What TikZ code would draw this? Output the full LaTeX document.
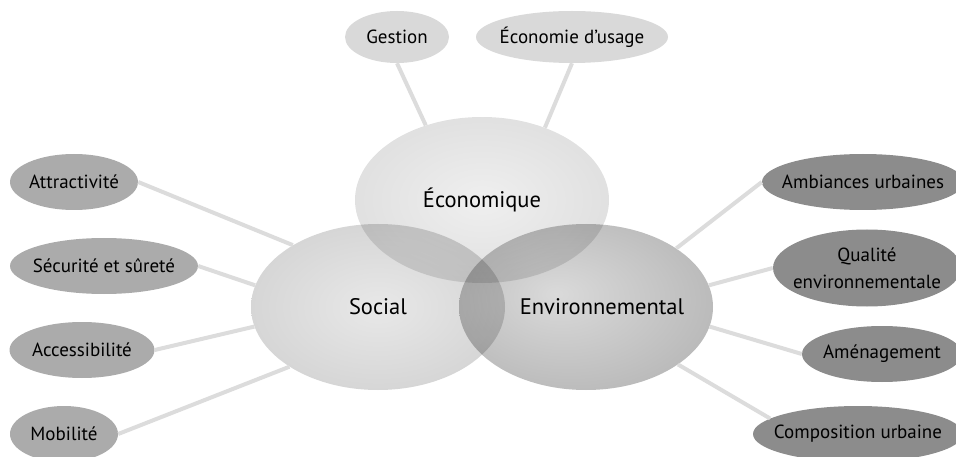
\documentclass[tikz,border=0pt]{standalone}
\usepackage{fontspec}
\setmainfont{PT Sans}
\usetikzlibrary{shapes.geometric}

\definecolor{satlight}{HTML}{D9D9D9}
\definecolor{satmid}{HTML}{ABABAB}
\definecolor{satdark}{HTML}{8C8C8C}
\definecolor{linkgray}{HTML}{DCDCDC}
\definecolor{ecoin}{HTML}{EFEFEF}
\definecolor{ecoout}{HTML}{D2D2D2}
\definecolor{socin}{HTML}{E8E8E8}
\definecolor{socout}{HTML}{C4C4C4}
\definecolor{envin}{HTML}{DADADA}
\definecolor{envout}{HTML}{A2A2A2}

\pgfdeclareradialshading{ecoshade}{\pgfpoint{0bp}{0bp}}{color(0bp)=(ecoin); color(50bp)=(ecoout)}
\pgfdeclareradialshading{socshade}{\pgfpoint{0bp}{0bp}}{color(0bp)=(socin); color(50bp)=(socout)}
\pgfdeclareradialshading{envshade}{\pgfpoint{-6bp}{4bp}}{color(0bp)=(envin); color(50bp)=(envout)}

\begin{document}
\begin{tikzpicture}[x=1pt,y=-1pt,font=\fontsize{19}{27}\selectfont,
    bigfont/.style={font=\fontsize{22.5}{27}\selectfont},
    pole/.style={ellipse,shade,blend mode=multiply,bigfont,minimum width=254pt,minimum height=166pt,inner sep=0pt},
    sat/.style={ellipse,inner sep=0pt,minimum height=56pt},
    link/.style={line width=4pt,draw=linkgray}]
  \useasboundingbox (0,0) rectangle (956,457);
  \clip (0,0) rectangle (956,457);

  % the three poles
  \node[pole,shading=ecoshade] (eco) at (482,200) {Économique};
  \node[pole,shading=socshade] (social) at (378,307) {Social};
  \node[pole,shading=envshade,label={[bigfont,xshift=16pt]center:Environnemental}] (env) at (586,307) {};

  % top
  \node[sat,fill=satlight,minimum width=104pt,minimum height=52pt,label=center:Gestion] (gestion) at (397,37) {};
  \node[sat,fill=satlight,minimum width=192pt,minimum height=52pt,label=center:Économie d’usage] (usage) at (572,37) {};

  % left
  \node[sat,fill=satmid,minimum width=128pt,label=center:Attractivité] (attract) at (74,182) {};
  \node[sat,fill=satmid,minimum width=188pt,label=center:Sécurité et sûreté] (securite) at (104,266) {};
  \node[sat,fill=satmid,minimum width=145pt,label=center:Accessibilité] (access) at (82,350) {};
  \node[sat,fill=satmid,minimum width=108pt,label=center:Mobilité] (mobilite) at (64,434) {};

  % right
  \node[sat,fill=satdark,minimum width=202pt,label=center:Ambiances urbaines] (ambiance) at (863,182) {};
  \node[sat,fill=satdark,minimum width=188pt,minimum height=77pt,
        label={[align=center]center:Qualité\\environnementale}] (qualite) at (867,268) {};
  \node[sat,fill=satdark,minimum width=160pt,label=center:Aménagement] (amenag) at (882,354) {};
  \node[sat,fill=satdark,minimum width=210pt,label=center:Composition urbaine] (compo) at (858,434) {};

  \draw[link] (gestion.south) -- (eco.127);
  \draw[link] (usage.south) -- (eco.49);
  \draw[link] (attract.east) -- (social.144);
  \draw[link] (securite.east) -- (social.170);
  \draw[link] (access.east) -- (social.189);
  \draw[link] (mobilite.east) -- (social.214);
  \draw[link] (ambiance.west) -- (env.33);
  \draw[link] (qualite.west) -- (env.10);
  \draw[link] (amenag.west) -- (env.-9);
  \draw[link] (compo.170) -- (env.-32);
\end{tikzpicture}
\end{document}
